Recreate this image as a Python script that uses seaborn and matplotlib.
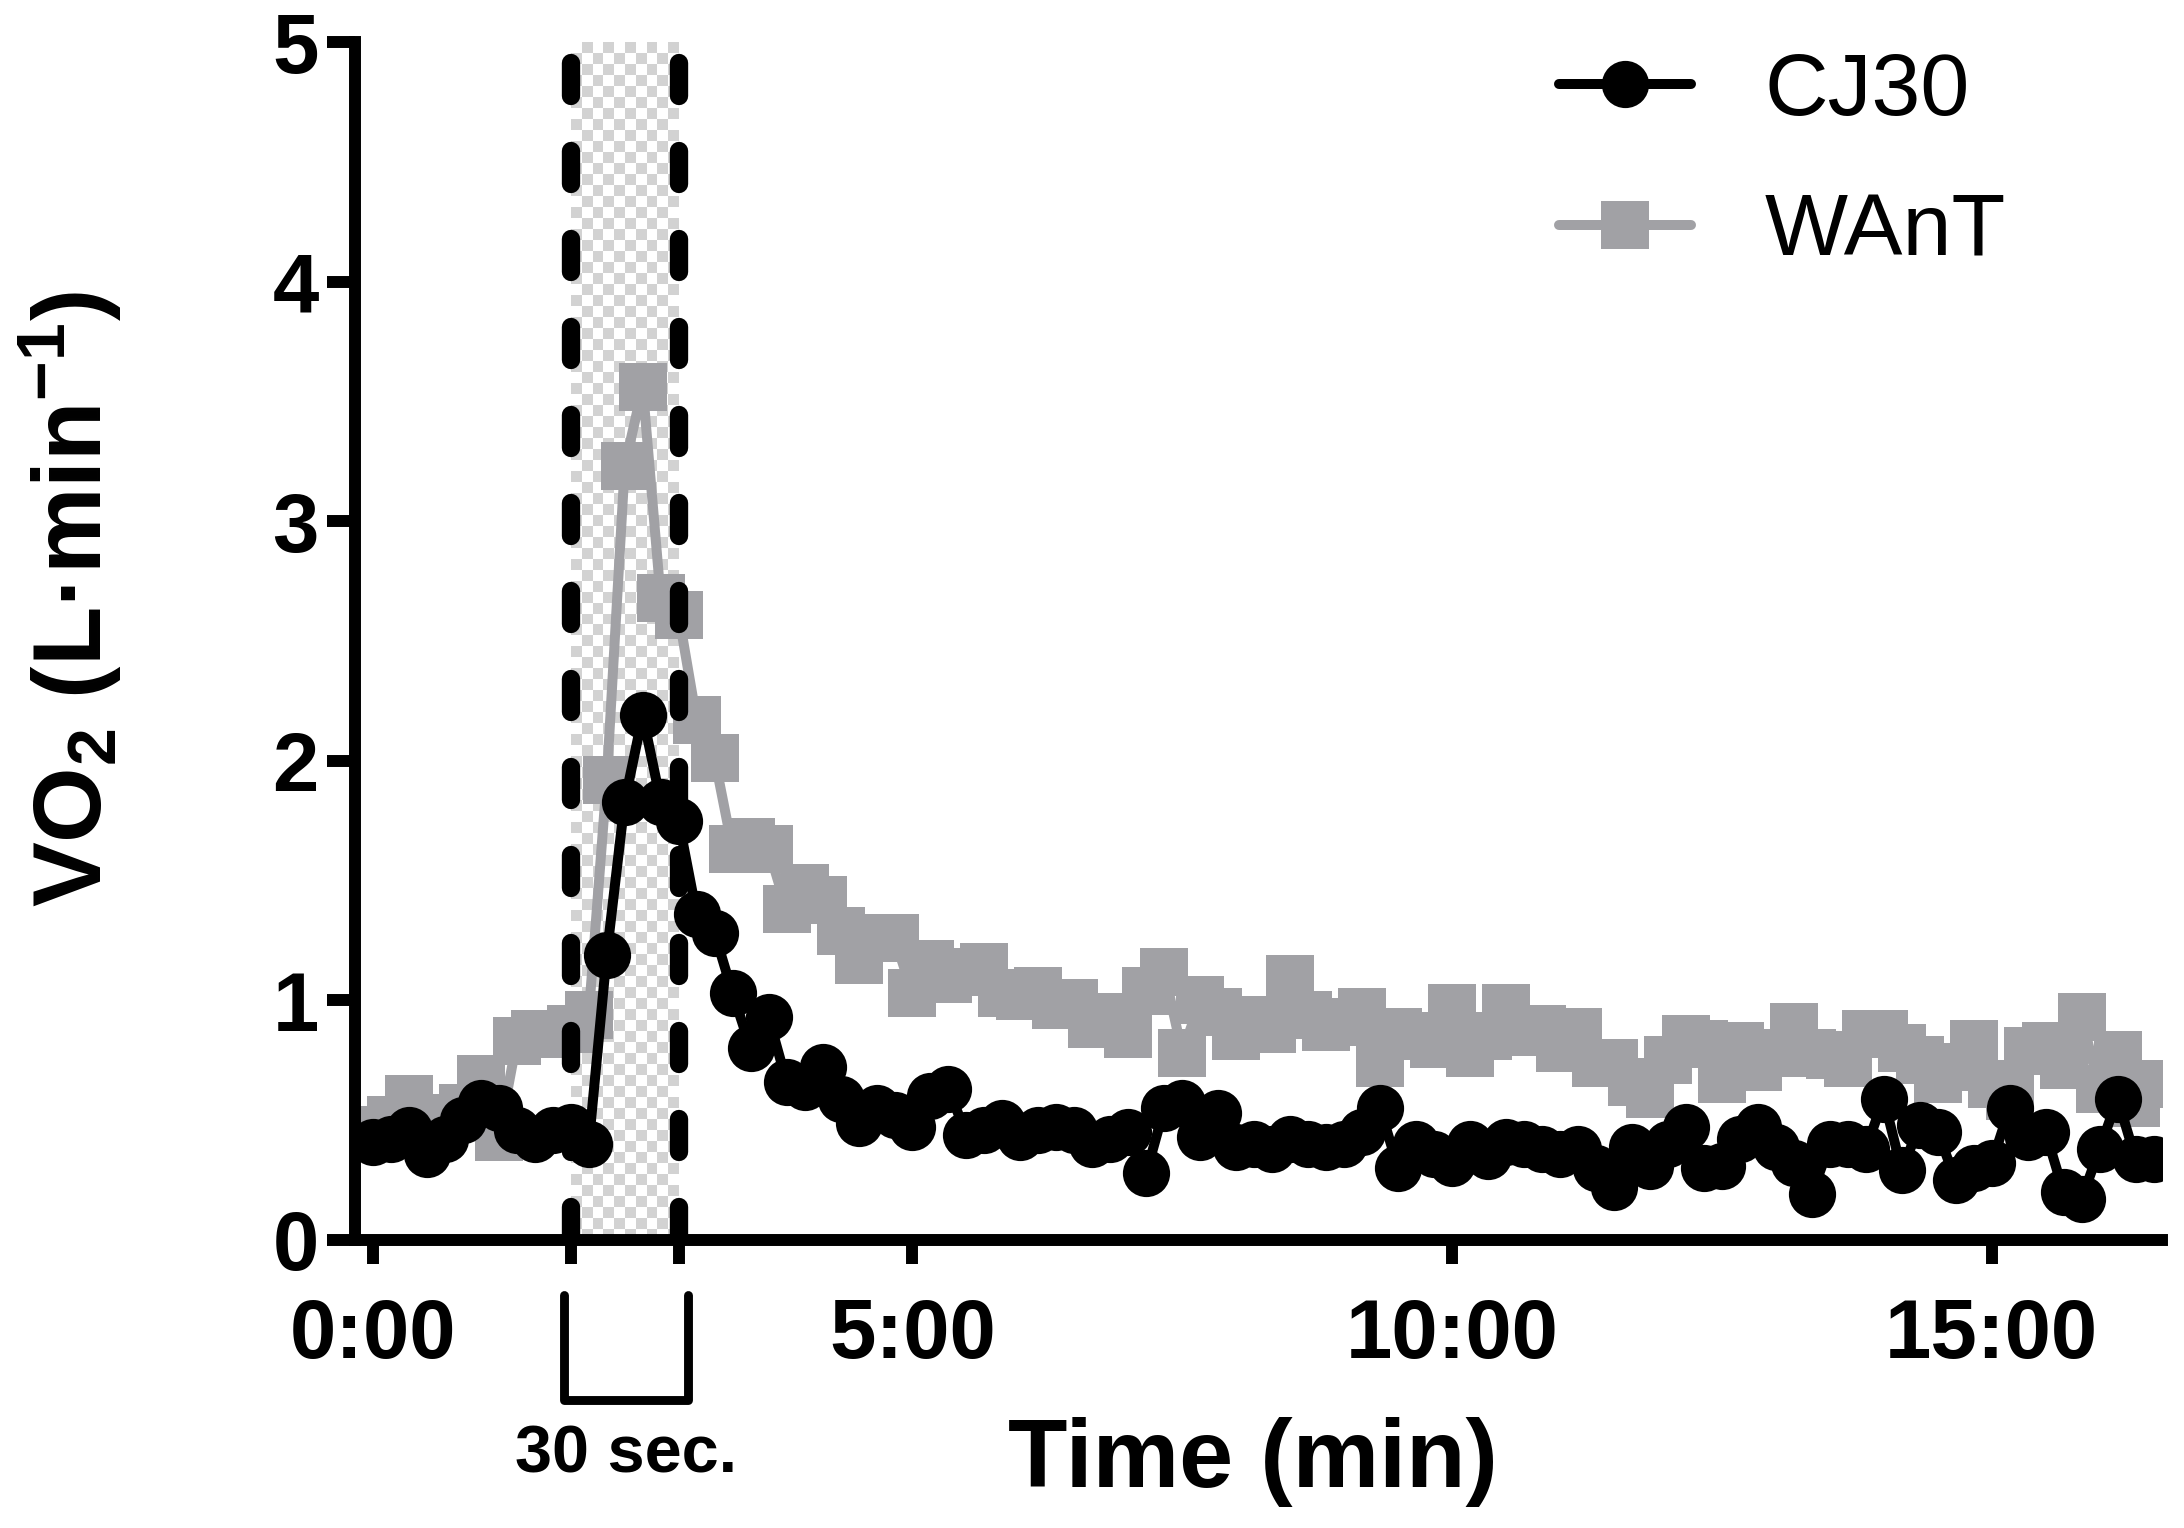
import numpy as np
import pandas as pd
import matplotlib
matplotlib.use("Agg")
import matplotlib.pyplot as plt
import seaborn as sns
from matplotlib.colors import ListedColormap

# ---------------- data (10-s averages) ----------------
time_s = np.arange(0, 1000, 10)          # sample times (s)

cj30 = [0.41, 0.42, 0.46, 0.36, 0.42, 0.50, 0.57, 0.55, 0.46, 0.42,
        0.46, 0.47, 0.40, 1.19, 1.83, 2.19, 1.83, 1.75, 1.36, 1.28,
        1.03, 0.80, 0.93, 0.66, 0.64, 0.72, 0.59, 0.49, 0.55, 0.52,
        0.47, 0.60, 0.63, 0.44, 0.46, 0.49, 0.43, 0.46, 0.47, 0.46,
        0.40, 0.42, 0.45, 0.28, 0.55, 0.57, 0.43, 0.53, 0.39, 0.40,
        0.38, 0.42, 0.40, 0.39, 0.40, 0.45, 0.55, 0.30, 0.40, 0.36,
        0.32, 0.40, 0.35, 0.41, 0.40, 0.38, 0.36, 0.38, 0.30, 0.22,
        0.39, 0.31, 0.40, 0.47, 0.30, 0.31, 0.42, 0.47, 0.39, 0.32,
        0.19, 0.40, 0.40, 0.38, 0.59, 0.29, 0.48, 0.45, 0.25, 0.30,
        0.32, 0.55, 0.43, 0.45, 0.20, 0.17, 0.38, 0.59, 0.34, 0.34]

want = [0.46, 0.50, 0.59, 0.51, 0.51, 0.55, 0.67, 0.43, 0.83, 0.86,
        0.86, 0.88, 0.94, 1.92, 3.23, 3.56, 2.68, 2.61, 2.17, 2.01,
        1.63, 1.66, 1.63, 1.38, 1.47, 1.42, 1.29, 1.17, 1.26, 1.26,
        1.03, 1.15, 1.09, 1.12, 1.14, 1.03, 1.02, 1.04, 0.98, 0.99,
        0.90, 0.93, 0.86, 1.04, 1.12, 0.78, 1.00, 0.95, 0.85, 0.92,
        0.88, 1.09, 0.94, 0.89, 0.91, 0.95, 0.74, 0.87, 0.85, 0.82,
        0.97, 0.78, 0.85, 0.97, 0.87, 0.88, 0.80, 0.87, 0.74, 0.74,
        0.66, 0.61, 0.75, 0.84, 0.82, 0.67, 0.81, 0.72, 0.78, 0.89,
        0.78, 0.77, 0.74, 0.86, 0.86, 0.80, 0.75, 0.67, 0.72, 0.82,
        0.65, 0.60, 0.79, 0.81, 0.73, 0.93, 0.63, 0.77, 0.57, 0.65]

series_labels = ["CJ30", "WAnT"]
xtick_min = [0, 5, 10, 15]
xtick_labels = ["0:00", "5:00", "10:00", "15:00"]
ytick_vals = [0, 1, 2, 3, 4, 5]
exercise_bounds_s = [110, 170]           # dashed lines
bracket_s = [106, 175]                   # "30 sec." bracket

time_min = time_s / 60.0
df = pd.DataFrame({"time": np.concatenate([time_min, time_min]),
                   "vo2": cj30 + want,
                   "test": ["CJ30"] * len(cj30) + ["WAnT"] * len(want)})

# ---------------- style ----------------
sns.set_style("ticks")
plt.rcParams["font.family"] = ["Liberation Sans", "DejaVu Sans"]
plt.rcParams["mathtext.fontset"] = "custom"
for k in ["rm", "it", "bf", "sf"]:
    plt.rcParams["mathtext." + k] = "Liberation Sans:bold"
for k in ["text.color", "axes.labelcolor", "xtick.color", "ytick.color",
          "axes.edgecolor"]:
    plt.rcParams[k] = "black"

BLACK = "#000000"
GRAY = "#a1a1a5"

fig = plt.figure(figsize=(10.92, 7.64), dpi=200)
ax = fig.add_axes([0.1625, 0.1885, 0.8275, 0.784])

x1, x2 = exercise_bounds_s[0] / 60, exercise_bounds_s[1] / 60

# checkered shaded exercise window
ny, nx = 109, 10
checker = (np.add.outer(np.arange(ny), np.arange(nx)) % 2).astype(float)
ax.imshow(checker, cmap=ListedColormap(["#ffffff", "#d2d2d2"]),
          extent=(x1, x2, 0, 5), aspect="auto", interpolation="nearest",
          zorder=0)

sns.lineplot(data=df[df.test == "WAnT"], x="time", y="vo2", ax=ax,
             color=GRAY, marker="s", markersize=17, markeredgewidth=0,
             linewidth=3.6, estimator=None, sort=False, label="WAnT", zorder=2)

for xv in (x1, x2):
    ax.axvline(xv, color=BLACK, linewidth=6.6, linestyle=(0, (1.8, 3.0)),
               dash_capstyle="round", zorder=3)

sns.lineplot(data=df[df.test == "CJ30"], x="time", y="vo2", ax=ax,
             color=BLACK, marker="o", markersize=17, markeredgewidth=0,
             linewidth=3.6, estimator=None, sort=False, label="CJ30", zorder=4)

ax.set_xlim(-0.167, 16.58)
ax.set_ylim(0, 5)

sns.despine(ax=ax)
for s in ["left", "bottom"]:
    ax.spines[s].set_linewidth(4.3)
    ax.spines[s].set_color(BLACK)

ax.set_xticks(xtick_min)
ax.set_xticklabels(xtick_labels)
ax.set_xticks([x1, x2], minor=True)
ax.set_yticks(ytick_vals)
ax.set_yticklabels([str(v) for v in ytick_vals])
ax.tick_params(axis="x", which="both", length=8.6, width=4.3, pad=12,
               labelsize=30, color=BLACK, labelcolor=BLACK)
ax.tick_params(axis="y", which="both", length=10, width=4.3, pad=3,
               labelsize=30, color=BLACK, labelcolor=BLACK)
for lab in ax.get_xticklabels() + ax.get_yticklabels():
    lab.set_fontweight("bold")

ax.set_xlabel("Time (min)", fontsize=35, fontweight="bold", color=BLACK)
ax.set_ylabel("VO$_2$ (L\u00b7min$^{-1}$)", fontsize=35, fontweight="bold",
              color=BLACK)
ax.xaxis.set_label_coords(0.497, -0.148)
ax.yaxis.set_label_coords(-0.128, 0.535)

# "30 sec." bracket
trans = ax.get_xaxis_transform()
bx0, bx1 = bracket_s[0] / 60, bracket_s[1] / 60
ax.plot([bx0, bx0, bx1, bx1], [-0.046, -0.134, -0.134, -0.046],
        color=BLACK, linewidth=3.2, transform=trans, clip_on=False)
ax.text((bx0 + bx1) / 2, -0.180, "30 sec.", transform=trans, ha="center",
        va="center", fontsize=24, fontweight="bold", color=BLACK)

handles, labels = ax.get_legend_handles_labels()
order = [labels.index(l) for l in series_labels]
leg = ax.legend([handles[i] for i in order], [labels[i] for i in order],
                loc="upper left", bbox_to_anchor=(0.714, 0.966),
                bbox_transform=fig.transFigure, frameon=False, fontsize=31.7,
                handlelength=1.5, handletextpad=0.83, labelspacing=0.68,
                borderpad=0, borderaxespad=0)
for t in leg.get_texts():
    t.set_color(BLACK)

fig.savefig("out.png", dpi=200)
